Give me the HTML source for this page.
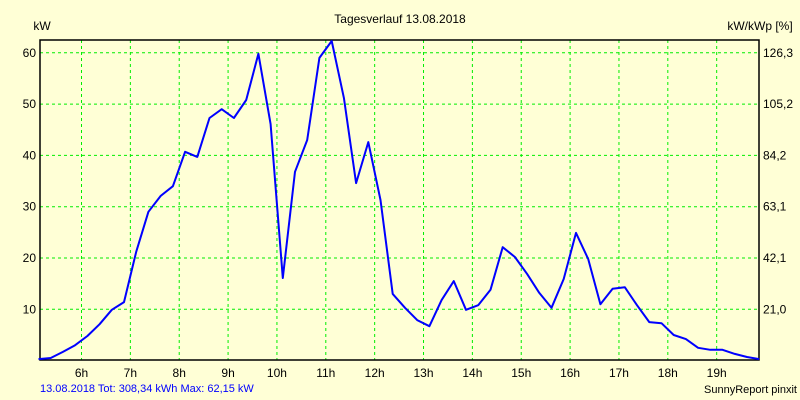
<!DOCTYPE html>
<html><head><meta charset="utf-8"><style>
body{margin:0;background:#ffffd6;}
svg{display:block;font-family:"Liberation Sans",sans-serif;font-size:12px;}
</style></head><body>
<svg id="chart" width="800" height="400" viewBox="0 0 800 400">
<rect width="800" height="400" fill="#ffffd6"/>
<text x="400" y="23" text-anchor="middle">Tagesverlauf 13.08.2018</text>
<text x="42" y="30" text-anchor="middle">kW</text>
<text x="760" y="30" text-anchor="middle">kW/kWp [%]</text>
<g id="grid"></g><g id="axes"></g><g id="series"></g>
<text x="40" y="392" fill="#0000ff" font-size="11">13.08.2018 Tot: 308,34 kWh Max: 62,15 kW</text>
<text x="797" y="393" text-anchor="end" font-size="11">SunnyReport pinxit</text>
</svg>
<script>
const yTicks=[10,20,30,40,50,60];
const rightTickLabels=["21,0","42,1","63,1","84,2","105,2","126,3"];
const xTicks=[6,7,8,9,10,11,12,13,14,15,16,17,18,19];
const power=[0.3,0.5,1.7,3.0,4.8,7.1,9.9,11.4,21.2,29.0,32.1,34.0,40.7,39.7,47.3,49.0,47.3,50.8,59.8,46.1,16.1,36.8,43.0,59.0,62.3,51.2,34.6,42.6,31.3,13.0,10.3,7.9,6.7,11.8,15.5,9.9,10.8,13.8,22.1,20.2,16.9,13.2,10.3,15.9,24.9,19.8,11.0,14.0,14.3,10.8,7.5,7.3,5.0,4.2,2.5,2.1,2.1,1.3,0.7,0.3];
const startHour=5.12, stepHour=0.25;
const times=power.map((_,i)=>startHour+i*stepHour);
const L=40,R=759,T=40,B=360;
const X=h=>81.5+(h-6)*48.86;
const Y=v=>360.6-v*5.13;
const NS="http://www.w3.org/2000/svg";
function mk(tag,attrs,parent,txt){const e=document.createElementNS(NS,tag);for(const k in attrs)e.setAttribute(k,attrs[k]);if(txt!==undefined)e.textContent=txt;parent.appendChild(e);return e;}
const grid=document.getElementById('grid'),axes=document.getElementById('axes'),series=document.getElementById('series');
yTicks.forEach((v,i)=>{
 const y=Y(v);
 const g=mk('line',{x1:L,x2:R,y1:y,y2:y,stroke:'#00ee00','stroke-dasharray':'3,3'},grid);
 
 
 const t=mk('text',{x:L-4,y:y+4,'text-anchor':'end'},axes,String(v));
 
 
 const r=mk('text',{x:R+4,y:y+4},axes,rightTickLabels[i]);
 
 
});
xTicks.forEach(h=>{
 const x=X(h);
 const g=mk('line',{x1:x,x2:x,y1:T,y2:B,stroke:'#00ee00','stroke-dasharray':'3,3'},grid);
 
 
 const t=mk('text',{x:x,y:B+17,'text-anchor':'middle'},axes,h+'h');
 
 
});
const frame=mk('path',{d:`M${L},${T}H${R}V${B}H${L}Z`,fill:'none',stroke:'#000','stroke-width':1.5},axes);


const pts=power.map((v,i)=>X(times[i]).toFixed(1)+','+Y(v).toFixed(1)).join(' ');
const line=mk('polyline',{points:pts,fill:'none',stroke:'#0000ff','stroke-width':2,'stroke-linejoin':'round'},series);


</script>
</body></html>
